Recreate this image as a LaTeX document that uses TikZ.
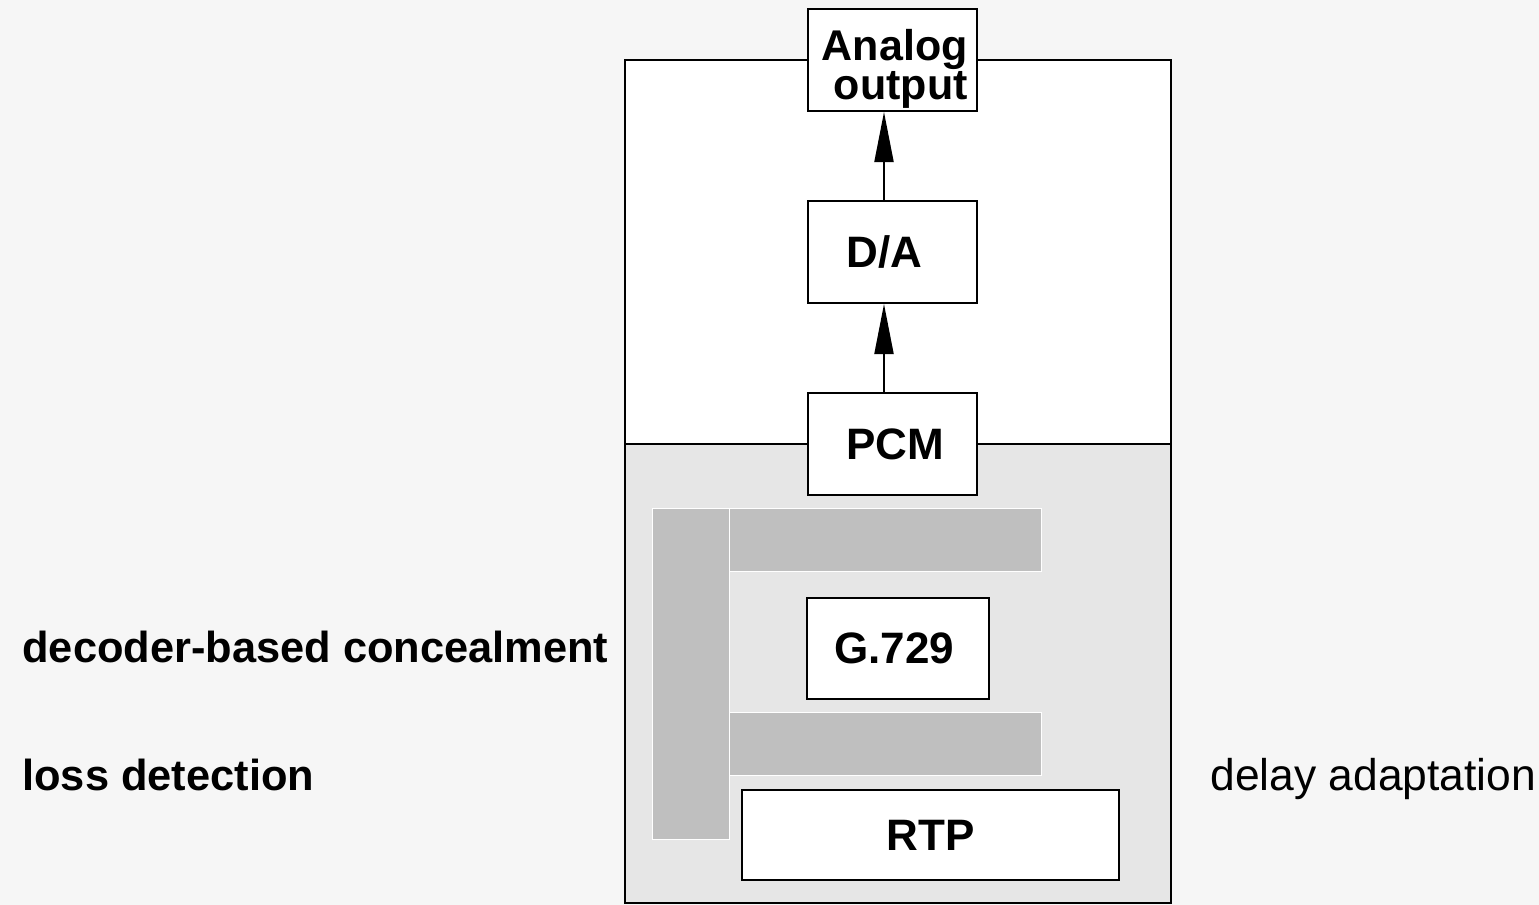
\documentclass[tikz,border=0pt]{standalone}
\usepackage{fontspec}
\setmainfont{Liberation Sans}
\usetikzlibrary{arrows.meta}
\definecolor{bgc}{HTML}{F6F6F6}
\definecolor{lowc}{HTML}{E6E6E6}
\definecolor{barc}{HTML}{BFBFBF}
\tikzset{
  blk/.style={draw=black, line width=1pt, fill=white, inner sep=0pt,
    minimum width=84.5pt, minimum height=51pt, font=\fontsize{22}{18}\selectfont\bfseries},
  lbl/.style={inner sep=0pt, font=\fontsize{21.7}{18}\selectfont\bfseries},
  bar/.style={fill=barc, draw=white, line width=0.5pt},
  flow/.style={line width=1pt, -{Triangle[length=25pt,width=9.5pt]}},
  frame/.style={draw=black, line width=1pt}
}
\begin{document}
\begin{tikzpicture}[x=0.5pt,y=-0.5pt]
\useasboundingbox (0,0) rectangle (1539,905);
\fill[bgc] (0,0) rectangle (1539,905);
% frame
\filldraw[frame, fill=white] (625,60) rectangle (1171,444);
\filldraw[frame, fill=lowc] (625,444) rectangle (1171,903);
% grey bars
\path[bar] (652,508) rectangle (729,839);
\path[bar] (729,508) rectangle (1041,571);
\path[bar] (729,712) rectangle (1041,775);
% boxes
\node[blk] (ana) at (892.5,60) {};
\node[inner sep=0pt, align=right, anchor=east, font=\fontsize{21.5}{18}\selectfont\bfseries] (anat) at (968,69) {Analog\\output};
\node[blk] (da) at (892.5,252) {\hspace*{-8pt}D/A};
\node[blk] (pcm) at (892.5,444) {\hspace*{3pt}PCM};
\node[blk, minimum width=91pt, minimum height=50.5pt] (g729) at (898,648.5) {\hspace*{-4pt}G.729};
\node[blk, minimum width=188.5pt, minimum height=45pt] (rtp) at (930.5,835) {RTP};
% arrows
\draw[flow] (pcm.north -| 884,0) -- (da.south -| 884,0);
\draw[flow] (da.north -| 884,0) -- (ana.south -| 884,0);
% labels
\node[lbl, anchor=base west] (dec) at (22,662) {decoder-based concealment};
\node[lbl, anchor=base west] (loss) at (22,790) {loss detection};
\node[inner sep=0pt, anchor=base west, font=\fontsize{22.2}{18}\selectfont] (delay) at (1210,790) {delay adaptation};
\end{tikzpicture}
\end{document}
